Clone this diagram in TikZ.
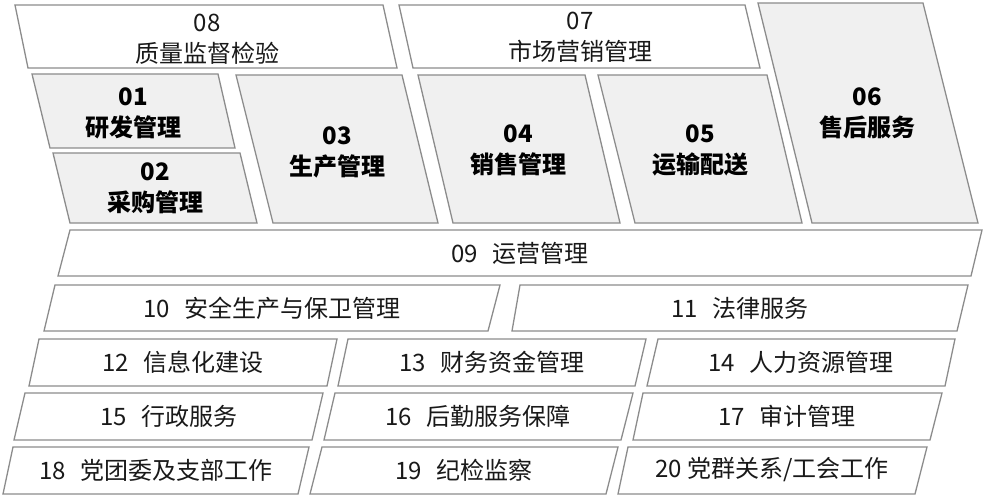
\documentclass[tikz,border=0pt]{standalone}
\usepackage{fontspec}
\setmainfont{Noto Sans CJK SC}
\begin{document}
\begin{tikzpicture}[x=1pt,y=-1pt,
  wbox/.style={draw=black!45,line width=1.3pt,fill=white,line join=miter},
  gbox/.style={draw=black!45,line width=1.3pt,fill=black!6,line join=miter},
  lbl/.style={font=\fontsize{24}{31}\selectfont,align=center,inner sep=0pt,text=black!90},
  blbl/.style={font=\fontsize{24}{31}\selectfont\bfseries,align=center,inner sep=0pt,text=black}]
\useasboundingbox (0,0) rectangle (983,500);
\newcommand{\gp}{\hspace{0.6em}}
% top part
\draw[wbox] (15,5) -- (383,5) -- (397,68) -- (28,68) -- cycle;
\node[lbl] (n08) at (207,39) {08\\质量监督检验};
\draw[wbox] (399,5) -- (745,5) -- (760,68) -- (413,68) -- cycle;
\node[lbl] (n07) at (580,37) {07\\市场营销管理};
\draw[gbox] (758,3) -- (923,3) -- (978,223) -- (812,223) -- cycle;
\node[blbl] (n06) at (867,113) {06\\售后服务};
\draw[gbox] (32,74) -- (218,74) -- (235,148) -- (50,148) -- cycle;
\node[blbl] (n01) at (133,113) {01\\研发管理};
\draw[gbox] (53,153) -- (240,153) -- (257,223) -- (70,223) -- cycle;
\node[blbl] (n02) at (155,188) {02\\采购管理};
\draw[gbox] (236,75) -- (402,75) -- (438,223) -- (273,223) -- cycle;
\node[blbl] (n03) at (337,152) {03\\生产管理};
\draw[gbox] (418,75) -- (585,75) -- (620,223) -- (453,223) -- cycle;
\node[blbl] (n04) at (518,150) {04\\销售管理};
\draw[gbox] (598,75) -- (767,75) -- (802,223) -- (635,223) -- cycle;
\node[blbl] (n05) at (700,150) {05\\运输配送};
% bottom part
\draw[wbox] (70,230) -- (982,230) -- (971,276) -- (58,276) -- cycle;
\node[lbl] (n09) at (520,253) {09\gp 运营管理};
\draw[wbox] (55,285) -- (500,285) -- (488,331) -- (44,331) -- cycle;
\node[lbl] (n10) at (272,308) {10\gp 安全生产与保卫管理};
\draw[wbox] (520,285) -- (968,285) -- (957,331) -- (512,331) -- cycle;
\node[lbl] (n11) at (740,308) {11\gp 法律服务};
\draw[wbox] (39,339) -- (337,339) -- (327,386) -- (29,386) -- cycle;
\node[lbl] (n12) at (183,362) {12\gp 信息化建设};
\draw[wbox] (348,339) -- (646,339) -- (635,386) -- (338,386) -- cycle;
\node[lbl] (n13) at (492,362) {13\gp 财务资金管理};
\draw[wbox] (658,339) -- (955,339) -- (945,386) -- (647,386) -- cycle;
\node[lbl] (n14) at (801,362) {14\gp 人力资源管理};
\draw[wbox] (25,393) -- (323,393) -- (312,440) -- (14,440) -- cycle;
\node[lbl] (n15) at (169,416) {15\gp 行政服务};
\draw[wbox] (335,393) -- (633,393) -- (621,440) -- (324,440) -- cycle;
\node[lbl] (n16) at (478,416) {16\gp 后勤服务保障};
\draw[wbox] (643,393) -- (942,393) -- (930,440) -- (633,440) -- cycle;
\node[lbl] (n17) at (787,416) {17\gp 审计管理};
\draw[wbox] (13,447) -- (309,447) -- (298,494) -- (3,494) -- cycle;
\node[lbl] (n18) at (156,470) {18\gp 党团委及支部工作};
\draw[wbox] (322,447) -- (618,447) -- (606,494) -- (310,494) -- cycle;
\node[lbl] (n19) at (464,470) {19\gp 纪检监察};
\draw[wbox] (628,447) -- (927,447) -- (915,494) -- (618,494) -- cycle;
\node[lbl] (n20) at (772,470) {20 党群关系/工会工作};
\end{tikzpicture}
\end{document}
